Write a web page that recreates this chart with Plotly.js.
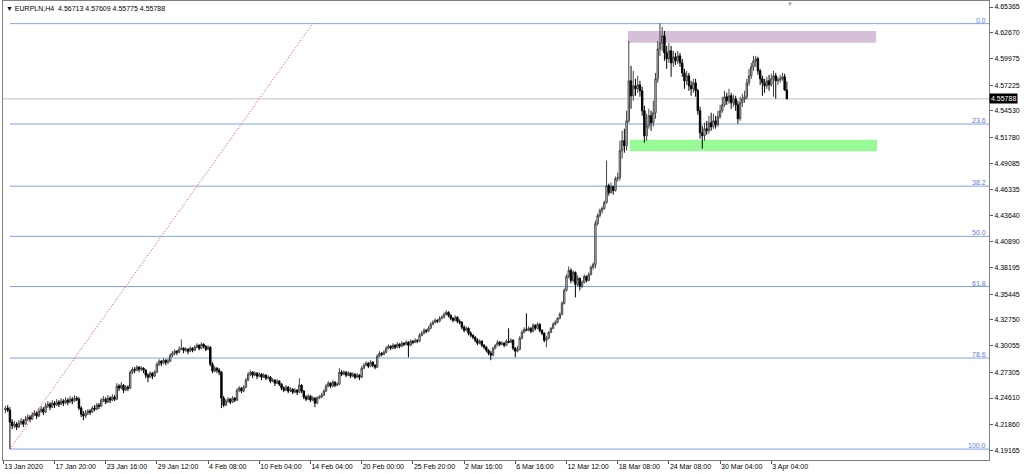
<!DOCTYPE html>
<html>
<head>
<meta charset="utf-8">
<script src="https://cdn.plot.ly/plotly-3.0.1.min.js"></script>
<style>
html,body{margin:0;padding:0;background:#fff;}
#chart{width:1024px;height:474px;}
</style>
</head>
<body>
<div id="chart"></div>
<script>
// ---- EURPLN H4 candles (bars in chart order) ----
const open = [
4.2335,4.2356,4.2335,4.2210,4.2169,4.2189,4.2158,4.2200,4.2221,4.2189,
4.2241,4.2262,4.2241,4.2283,4.2304,4.2273,4.2325,4.2345,4.2314,4.2377,
4.2397,4.2366,4.2408,4.2387,4.2418,4.2397,4.2429,4.2408,4.2439,4.2418,
4.2449,4.2429,4.2460,4.2449,4.2356,4.2293,4.2273,4.2304,4.2325,4.2314,
4.2356,4.2345,4.2387,4.2377,4.2439,4.2449,4.2418,4.2460,4.2439,4.2470,
4.2449,4.2585,4.2564,4.2595,4.2543,4.2574,4.2564,4.2730,4.2761,4.2751,
4.2782,4.2761,4.2772,4.2751,4.2699,4.2678,4.2720,4.2689,4.2730,4.2813,
4.2845,4.2824,4.2855,4.2834,4.2845,4.2907,4.2928,4.2949,4.2938,4.2969,
4.2980,4.2959,4.2969,4.2949,4.2980,4.2959,4.2990,4.3011,4.2980,4.3021,
4.3001,4.2969,4.2990,4.2813,4.2741,4.2772,4.2751,4.2730,4.2460,4.2387,
4.2429,4.2449,4.2418,4.2460,4.2439,4.2543,4.2564,4.2533,4.2574,4.2647,
4.2709,4.2730,4.2699,4.2720,4.2689,4.2709,4.2678,4.2699,4.2668,4.2678,
4.2637,4.2647,4.2616,4.2637,4.2605,4.2564,4.2543,4.2574,4.2533,4.2553,
4.2522,4.2543,4.2522,4.2595,4.2533,4.2470,4.2449,4.2481,4.2439,4.2460,
4.2408,4.2460,4.2470,4.2491,4.2533,4.2585,4.2616,4.2585,4.2626,4.2595,
4.2605,4.2730,4.2709,4.2730,4.2699,4.2720,4.2689,4.2709,4.2678,4.2699,
4.2678,4.2772,4.2803,4.2824,4.2793,4.2834,4.2803,4.2782,4.2897,4.2928,
4.2917,4.2938,4.2980,4.3001,4.2980,4.3011,4.2990,4.3021,4.3001,4.3032,
4.3021,4.3042,4.3011,4.3053,4.3042,4.3063,4.3053,4.3115,4.3136,4.3167,
4.3157,4.3188,4.3229,4.3250,4.3271,4.3261,4.3292,4.3302,4.3333,4.3354,
4.3323,4.3292,4.3271,4.3302,4.3261,4.3250,4.3198,4.3167,4.3188,4.3136,
4.3115,4.3094,4.3063,4.3032,4.3053,4.3011,4.2990,4.2959,4.2928,4.2907,
4.2980,4.3011,4.3042,4.3021,4.3032,4.3011,4.3053,4.3042,4.3063,4.2980,
4.2949,4.2969,4.3084,4.3146,4.3177,4.3167,4.3188,4.3157,4.3219,4.3188,
4.3229,4.3167,4.3136,4.3063,4.3084,4.3146,4.3188,4.3229,4.3250,4.3292,
4.3333,4.3448,4.3583,4.3729,4.3791,4.3687,4.3770,4.3645,4.3708,4.3625,
4.3666,4.3729,4.3687,4.3749,4.3822,4.3853,4.4280,4.4363,4.4415,4.4436,
4.4498,4.4675,4.4602,4.4665,4.4623,4.4748,4.4758,4.5039,4.5143,4.5091,
4.5351,4.5767,4.5611,4.5715,4.5684,4.5725,4.5663,4.5455,4.5195,4.5299,
4.5403,4.5330,4.5434,4.5788,4.6100,4.6162,4.6235,4.6058,4.5996,4.6079,
4.5954,4.6017,4.5975,4.6027,4.5954,4.5850,4.5767,4.5819,4.5715,4.5684,
4.5746,4.5663,4.5455,4.5226,4.5195,4.5268,4.5247,4.5330,4.5289,4.5351,
4.5309,4.5393,4.5455,4.5517,4.5601,4.5559,4.5611,4.5538,4.5580,4.5517,
4.5372,4.5538,4.5580,4.5601,4.5746,4.5819,4.5913,4.5975,4.5996,4.5871,
4.5788,4.5746,4.5715,4.5767,4.5725,4.5788,4.5819,4.5767,4.5777,4.5788,
4.5809,4.56713];

const high = [
4.2377,4.2387,4.2366,4.2241,4.2221,4.2210,4.2231,4.2252,4.2241,4.2273,
4.2293,4.2283,4.2314,4.2335,4.2325,4.2356,4.2377,4.2366,4.2408,4.2429,
4.2418,4.2439,4.2429,4.2449,4.2439,4.2460,4.2449,4.2470,4.2460,4.2481,
4.2470,4.2491,4.2481,4.2470,4.2377,4.2325,4.2335,4.2345,4.2345,4.2377,
4.2387,4.2408,4.2408,4.2460,4.2481,4.2470,4.2491,4.2481,4.2501,4.2491,
4.2616,4.2605,4.2626,4.2605,4.2595,4.2595,4.2751,4.2782,4.2782,4.2803,
4.2793,4.2793,4.2782,4.2761,4.2720,4.2741,4.2730,4.2751,4.2834,4.2865,
4.2855,4.2876,4.2865,4.2876,4.2928,4.2949,4.2969,4.2959,4.3001,4.3073,
4.2990,4.2990,4.2980,4.3001,4.2990,4.3011,4.3032,4.3021,4.3042,4.3032,
4.3011,4.3011,4.3001,4.2834,4.2793,4.2782,4.2772,4.2741,4.2481,4.2449,
4.2470,4.2460,4.2481,4.2470,4.2564,4.2585,4.2574,4.2595,4.2668,4.2730,
4.2751,4.2741,4.2741,4.2730,4.2730,4.2720,4.2720,4.2709,4.2699,4.2689,
4.2668,4.2657,4.2657,4.2647,4.2616,4.2585,4.2595,4.2585,4.2574,4.2564,
4.2564,4.2553,4.2668,4.2605,4.2543,4.2491,4.2501,4.2491,4.2481,4.2470,
4.2481,4.2491,4.2512,4.2553,4.2605,4.2637,4.2626,4.2647,4.2637,4.2626,
4.2772,4.2751,4.2751,4.2741,4.2741,4.2730,4.2730,4.2720,4.2720,4.2709,
4.2793,4.2824,4.2845,4.2834,4.2855,4.2845,4.2813,4.2917,4.2949,4.2938,
4.2959,4.3001,4.3021,4.3011,4.3032,4.3021,4.3042,4.3032,4.3053,4.3042,
4.3063,4.3053,4.3073,4.3063,4.3084,4.3073,4.3136,4.3157,4.3188,4.3177,
4.3209,4.3250,4.3271,4.3292,4.3281,4.3313,4.3323,4.3354,4.3375,4.3365,
4.3333,4.3302,4.3323,4.3313,4.3281,4.3261,4.3219,4.3209,4.3198,4.3157,
4.3125,4.3105,4.3084,4.3073,4.3063,4.3021,4.3001,4.2969,4.2949,4.2990,
4.3021,4.3063,4.3053,4.3053,4.3042,4.3073,4.3188,4.3084,4.3073,4.2990,
4.3001,4.3105,4.3167,4.3198,4.3344,4.3209,4.3198,4.3240,4.3229,4.3250,
4.3240,4.3177,4.3146,4.3105,4.3157,4.3198,4.3250,4.3271,4.3302,4.3354,
4.3469,4.3604,4.3749,4.3833,4.3812,4.3791,4.3781,4.3739,4.3718,4.3687,
4.3749,4.3739,4.3770,4.3843,4.3874,4.4311,4.4384,4.4436,4.4457,4.4519,
4.4935,4.4696,4.4706,4.4675,4.4769,4.4810,4.5143,4.5247,4.5268,4.5455,
4.6183,4.5923,4.5871,4.5788,4.5819,4.5767,4.5705,4.5507,4.5424,4.5476,
4.5455,4.5559,4.5850,4.6183,4.6363,4.6329,4.6287,4.6131,4.6162,4.6131,
4.6079,4.6058,4.6079,4.6058,4.5996,4.5892,4.5871,4.5850,4.5767,4.5788,
4.5788,4.5684,4.5497,4.5299,4.5330,4.5351,4.5403,4.5434,4.5424,4.5403,
4.5455,4.5517,4.5601,4.5663,4.5642,4.5684,4.5642,4.5621,4.5611,4.5559,
4.5601,4.5632,4.5663,4.5788,4.5892,4.5954,4.6027,4.6027,4.6017,4.5892,
4.5819,4.5788,4.5809,4.5829,4.5840,4.5871,4.5850,4.5809,4.5829,4.5850,
4.5840,4.57609];

const low = [
4.2304,4.2314,4.1929,4.2137,4.2148,4.2127,4.2148,4.2179,4.2158,4.2179,
4.2221,4.2210,4.2231,4.2273,4.2241,4.2262,4.2304,4.2283,4.2304,4.2356,
4.2335,4.2356,4.2356,4.2377,4.2366,4.2387,4.2377,4.2397,4.2387,4.2408,
4.2397,4.2418,4.2429,4.2335,4.2262,4.2231,4.2252,4.2283,4.2283,4.2304,
4.2325,4.2335,4.2345,4.2366,4.2418,4.2397,4.2408,4.2408,4.2429,4.2429,
4.2439,4.2533,4.2553,4.2512,4.2533,4.2533,4.2553,4.2709,4.2720,4.2741,
4.2730,4.2741,4.2720,4.2668,4.2626,4.2668,4.2657,4.2678,4.2720,4.2793,
4.2793,4.2813,4.2803,4.2813,4.2834,4.2886,4.2907,4.2907,4.2928,4.2959,
4.2928,4.2938,4.2917,4.2938,4.2938,4.2949,4.2980,4.2959,4.2969,4.2980,
4.2949,4.2959,4.2793,4.2720,4.2730,4.2720,4.2699,4.2356,4.2366,4.2377,
4.2408,4.2397,4.2408,4.2418,4.2429,4.2522,4.2512,4.2522,4.2564,4.2637,
4.2689,4.2668,4.2689,4.2657,4.2678,4.2647,4.2668,4.2647,4.2657,4.2616,
4.2626,4.2585,4.2605,4.2585,4.2543,4.2522,4.2533,4.2512,4.2522,4.2501,
4.2512,4.2491,4.2512,4.2512,4.2449,4.2429,4.2439,4.2418,4.2429,4.2366,
4.2397,4.2449,4.2460,4.2481,4.2522,4.2574,4.2564,4.2574,4.2574,4.2585,
4.2595,4.2689,4.2699,4.2678,4.2689,4.2668,4.2678,4.2657,4.2668,4.2647,
4.2668,4.2761,4.2793,4.2772,4.2782,4.2782,4.2761,4.2772,4.2886,4.2897,
4.2907,4.2928,4.2969,4.2959,4.2969,4.2969,4.2980,4.2980,4.2990,4.3001,
4.3011,4.2886,4.3001,4.3021,4.3032,4.3032,4.3042,4.3105,4.3125,4.3136,
4.3146,4.3177,4.3219,4.3240,4.3240,4.3250,4.3281,4.3292,4.3323,4.3302,
4.3271,4.3250,4.3261,4.3240,4.3229,4.3177,4.3146,4.3157,4.3115,4.3094,
4.3073,4.3042,4.3011,4.3021,4.2990,4.2969,4.2938,4.2907,4.2855,4.2897,
4.2969,4.3001,4.3001,4.3011,4.2990,4.3001,4.3032,4.3032,4.2959,4.2886,
4.2938,4.2959,4.3073,4.3136,4.3157,4.3157,4.3136,4.3146,4.3167,4.3177,
4.3146,4.3115,4.3042,4.2990,4.3073,4.3136,4.3177,4.3219,4.3240,4.3281,
4.3323,4.3437,4.3573,4.3708,4.3656,4.3666,4.3510,4.3625,4.3583,4.3604,
4.3656,4.3666,4.3677,4.3739,4.3801,4.3812,4.4259,4.4342,4.4384,4.4425,
4.4488,4.4571,4.4592,4.4581,4.4613,4.4717,4.4727,4.4956,4.5018,4.5039,
4.5330,4.5476,4.5559,4.5611,4.5642,4.5601,4.5403,4.5122,4.5143,4.5268,
4.5247,4.5289,4.5372,4.5746,4.6027,4.6079,4.5975,4.5892,4.5954,4.5809,
4.5913,4.5933,4.5944,4.5913,4.5809,4.5684,4.5725,4.5663,4.5611,4.5642,
4.5601,4.5413,4.5164,4.5060,4.5143,4.5205,4.5216,4.5247,4.5268,4.5268,
4.5289,4.5372,4.5434,4.5497,4.5517,4.5528,4.5476,4.5497,4.5455,4.5320,
4.5351,4.5497,4.5538,4.5569,4.5715,4.5788,4.5871,4.5913,4.5829,4.5725,
4.5611,4.5642,4.5684,4.5663,4.5705,4.5601,4.5580,4.5725,4.5746,4.5767,
4.5663,4.55775];

const close = [
4.2356,4.2335,4.2210,4.2169,4.2189,4.2158,4.2200,4.2221,4.2189,4.2241,
4.2262,4.2241,4.2283,4.2304,4.2273,4.2325,4.2345,4.2314,4.2377,4.2397,
4.2366,4.2408,4.2387,4.2418,4.2397,4.2429,4.2408,4.2439,4.2418,4.2449,
4.2429,4.2460,4.2449,4.2356,4.2293,4.2273,4.2304,4.2325,4.2314,4.2356,
4.2345,4.2387,4.2377,4.2439,4.2449,4.2418,4.2460,4.2439,4.2470,4.2449,
4.2585,4.2564,4.2595,4.2543,4.2574,4.2564,4.2730,4.2761,4.2751,4.2782,
4.2761,4.2772,4.2751,4.2699,4.2678,4.2720,4.2689,4.2730,4.2813,4.2845,
4.2824,4.2855,4.2834,4.2845,4.2907,4.2928,4.2949,4.2938,4.2969,4.2980,
4.2959,4.2969,4.2949,4.2980,4.2959,4.2990,4.3011,4.2980,4.3021,4.3001,
4.2969,4.2990,4.2813,4.2741,4.2772,4.2751,4.2730,4.2460,4.2387,4.2429,
4.2449,4.2418,4.2460,4.2439,4.2543,4.2564,4.2533,4.2574,4.2647,4.2709,
4.2730,4.2699,4.2720,4.2689,4.2709,4.2678,4.2699,4.2668,4.2678,4.2637,
4.2647,4.2616,4.2637,4.2605,4.2564,4.2543,4.2574,4.2533,4.2553,4.2522,
4.2543,4.2522,4.2595,4.2533,4.2470,4.2449,4.2481,4.2439,4.2460,4.2408,
4.2460,4.2470,4.2491,4.2533,4.2585,4.2616,4.2585,4.2626,4.2595,4.2605,
4.2730,4.2709,4.2730,4.2699,4.2720,4.2689,4.2709,4.2678,4.2699,4.2678,
4.2772,4.2803,4.2824,4.2793,4.2834,4.2803,4.2782,4.2897,4.2928,4.2917,
4.2938,4.2980,4.3001,4.2980,4.3011,4.2990,4.3021,4.3001,4.3032,4.3021,
4.3042,4.3011,4.3053,4.3042,4.3063,4.3053,4.3115,4.3136,4.3167,4.3157,
4.3188,4.3229,4.3250,4.3271,4.3261,4.3292,4.3302,4.3333,4.3354,4.3323,
4.3292,4.3271,4.3302,4.3261,4.3250,4.3198,4.3167,4.3188,4.3136,4.3115,
4.3094,4.3063,4.3032,4.3053,4.3011,4.2990,4.2959,4.2928,4.2907,4.2980,
4.3011,4.3042,4.3021,4.3032,4.3011,4.3053,4.3042,4.3063,4.2980,4.2949,
4.2969,4.3084,4.3146,4.3177,4.3167,4.3188,4.3157,4.3219,4.3188,4.3229,
4.3167,4.3136,4.3063,4.3084,4.3146,4.3188,4.3229,4.3250,4.3292,4.3333,
4.3448,4.3583,4.3729,4.3791,4.3687,4.3770,4.3645,4.3708,4.3625,4.3666,
4.3729,4.3687,4.3749,4.3822,4.3853,4.4280,4.4363,4.4415,4.4436,4.4498,
4.4675,4.4602,4.4665,4.4623,4.4748,4.4758,4.5039,4.5143,4.5091,4.5351,
4.5767,4.5611,4.5715,4.5684,4.5725,4.5663,4.5455,4.5195,4.5299,4.5403,
4.5330,4.5434,4.5788,4.6100,4.6162,4.6235,4.6058,4.5996,4.6079,4.5954,
4.6017,4.5975,4.6027,4.5954,4.5850,4.5767,4.5819,4.5715,4.5684,4.5746,
4.5663,4.5455,4.5226,4.5195,4.5268,4.5247,4.5330,4.5289,4.5351,4.5309,
4.5393,4.5455,4.5517,4.5601,4.5559,4.5611,4.5538,4.5580,4.5517,4.5372,
4.5538,4.5580,4.5601,4.5746,4.5819,4.5913,4.5975,4.5996,4.5871,4.5788,
4.5746,4.5715,4.5767,4.5725,4.5788,4.5819,4.5767,4.5777,4.5788,4.5809,
4.5671,4.55788];

// ---- time axis labels (placed at bar positions) ----
const dateTickBars = [-1,22,45,68,91,114,137,160,183,206,229,252,275,298,321,344];
const dateTickLabels = ["13 Jan 2020","17 Jan 20:00","23 Jan 16:00","29 Jan 12:00","4 Feb 08:00",
  "10 Feb 04:00","14 Feb 04:00","20 Feb 00:00","25 Feb 20:00","2 Mar 16:00","6 Mar 16:00",
  "12 Mar 12:00","18 Mar 08:00","24 Mar 08:00","30 Mar 04:00","3 Apr 04:00"];

// ---- price axis labels ----
const priceTicks = [4.65365,4.62670,4.59975,4.57225,4.54530,4.51780,4.49085,4.46335,4.43640,
  4.40890,4.38195,4.35445,4.32750,4.30055,4.27305,4.24610,4.21860,4.19165];

// ---- Fibonacci retracement ----
const fibLevels = [0.0, 23.6, 38.2, 50.0, 61.8, 78.6, 100.0];
const fibHigh = 4.6363, fibLow = 4.1929;
const fibLowBar = 2, fibHighBar = 138;

// ---- zones ----
const resistanceZone = {bars:[279.6, 391.1], prices:[4.6165, 4.6287]};
const supportZone = {bars:[280.5, 391.5], prices:[4.5032, 4.5153]};

const symbolName = "EURPLN,H4";

// ---------------------------------------------------
const n = close.length;
const barIdx = close.map((_, i) => i);
const xMin = -1.12, xMax = 441.8;
const yMin = 4.1815, yMax = 4.6599;
const fontFam = "Liberation Sans, Arial, sans-serif";
const fibColor = "#7f9ff0";
const fibText = "#5f7bd6";

const traces = [{
  type: "candlestick",
  x: barIdx, open: open, high: high, low: low, close: close,
  increasing: {line: {color: "#454545", width: 1}, fillcolor: "#e0e0e0"},
  decreasing: {line: {color: "#000000", width: 1}, fillcolor: "#000000"},
  whiskerwidth: 0,
  hoverinfo: "skip",
  showlegend: false
}];

const shapes = [];
const annotations = [];

// zones
shapes.push({type:"rect", xref:"x", yref:"y", x0:resistanceZone.bars[0], x1:resistanceZone.bars[1],
  y0:resistanceZone.prices[0], y1:resistanceZone.prices[1], fillcolor:"#d8bfd8", line:{width:0}, layer:"below"});
shapes.push({type:"rect", xref:"x", yref:"y", x0:supportZone.bars[0], x1:supportZone.bars[1],
  y0:supportZone.prices[0], y1:supportZone.prices[1], fillcolor:"#98fb98", line:{width:0}, layer:"below"});

// current price line
const last = n - 1;
shapes.push({type:"line", xref:"paper", yref:"y", x0:0, x1:1, y0:close[last], y1:close[last],
  line:{color:"#c0c0c0", width:1}, layer:"below"});

// fib levels
fibLevels.forEach(lv => {
  const p = fibHigh - (fibHigh - fibLow) * lv / 100;
  shapes.push({type:"line", xref:"x", yref:"y", x0:fibLowBar, x1:xMax, y0:p, y1:p,
    line:{color:fibColor, width:1}, layer:"below"});
  annotations.push({xref:"paper", yref:"y", x:1, y:p, xanchor:"right", yanchor:"bottom",
    text:lv.toFixed(1), showarrow:false, xshift:-1, yshift:-2,
    font:{family:fontFam, size:7, color:fibText}});
});

// fib trend line
shapes.push({type:"line", xref:"x", yref:"y", x0:fibLowBar, y0:fibLow, x1:fibHighBar, y1:fibHigh,
  line:{color:"#ff3030", width:1, dash:"1px,2px"}});

// header
annotations.push({xref:"paper", yref:"paper", x:0.001, y:1, yshift:-7, xanchor:"left", yanchor:"middle",
  showarrow:false,
  text:"\u25BC " + symbolName + "  " + open[last].toFixed(5) + " " + high[last].toFixed(5) + " " +
       low[last].toFixed(5) + " " + close[last].toFixed(5),
  font:{family:fontFam, size:7, color:"#000"}});

// current price label
annotations.push({xref:"paper", yref:"y", x:1, y:close[last], xanchor:"left", yanchor:"middle",
  showarrow:false, text:close[last].toFixed(5), bgcolor:"#000", borderpad:1, xshift:0,
  font:{family:fontFam, size:7, color:"#fff"}});

// chart shift marker
annotations.push({xref:"x", yref:"paper", x:352.5, y:1, yshift:-3, xanchor:"center", yanchor:"middle",
  showarrow:false, text:"\u25BC", font:{family:fontFam, size:6, color:"#a0a0a0"}});

const layout = {
  width: 1024, height: 474,
  margin: {l:3, r:35, t:1, b:14, pad:0},
  paper_bgcolor: "#ffffff", plot_bgcolor: "#ffffff",
  showlegend: false,
  dragmode: false,
  hovermode: false,
  boxgap: 0.1,
  font: {family: fontFam, size: 7, color: "#000"},
  xaxis: {
    range: [xMin, xMax], fixedrange: true,
    tickmode: "array", tickvals: dateTickBars, ticktext: dateTickLabels,
    ticks: "outside", ticklen: 3, tickwidth: 1, tickcolor: "#555",
    ticklabelposition: "outside right",
    tickfont: {family: fontFam, size: 7, color: "#000"},
    showgrid: false, zeroline: false,
    showline: true, linecolor: "#808080", linewidth: 1, mirror: true,
    rangeslider: {visible: false},
    automargin: false
  },
  yaxis: {
    side: "right", range: [yMin, yMax], fixedrange: true,
    tickmode: "array", tickvals: priceTicks, ticktext: priceTicks.map(v => v.toFixed(5)),
    ticks: "outside", ticklen: 3, tickwidth: 1, tickcolor: "#555",
    tickfont: {family: fontFam, size: 7, color: "#000"},
    showgrid: false, zeroline: false,
    showline: true, linecolor: "#808080", linewidth: 1, mirror: true,
    automargin: false
  },
  shapes: shapes,
  annotations: annotations
};

Plotly.newPlot("chart", traces, layout, {displayModeBar: false, staticPlot: true});
</script>
</body>
</html>
